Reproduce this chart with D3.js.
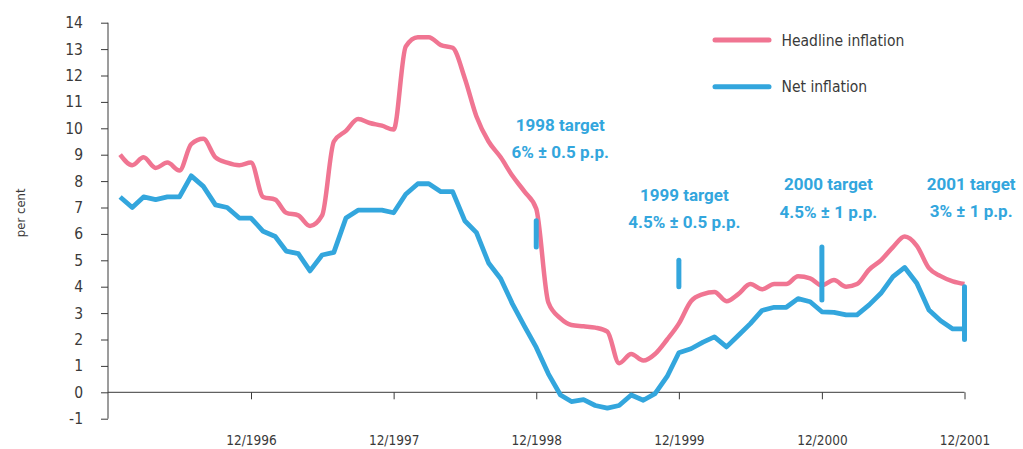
<html>
<head>
    <title>Headline and net inflation</title>
    <script src="https://d3js.org/d3.v7.min.js"></script>
    <style>
        body {
            margin: 0;
            background: #fff;
        }
        svg {
            display: block;
        }
        text {
            font-family: "Liberation Sans Narrow", "DejaVu Sans Condensed", "Roboto", sans-serif;
        }
    </style>
</head>
<body>
    <svg id="chart"></svg>
<script>
    const WIDTH = 1023
    const HEIGHT = 449
    const PINK = "#f07592"
    const BLUE = "#33a6dd"
    const INK = "#3a3a3a"

    // Monthly values, Jan 1996 .. Dec 2001 (per cent)
    const headline = [
        9.0, 8.6, 8.9, 8.5, 8.7, 8.4, 9.4, 9.6, 8.9, 8.7, 8.6, 8.7,
        7.4, 7.3, 6.8, 6.7, 6.3, 6.7, 9.5, 9.9, 10.35, 10.2, 10.1, 9.95,
        13.1, 13.45, 13.45, 13.15, 13.05, 11.9, 10.45, 9.5, 8.9, 8.2, 7.6, 6.95,
        3.4, 2.8, 2.55, 2.5, 2.45, 2.3, 1.1, 1.45, 1.2, 1.45, 2.0, 2.6,
        3.45, 3.72, 3.8, 3.45, 3.72, 4.1, 3.9, 4.1, 4.1, 4.4, 4.32, 4.05,
        4.25, 4.0, 4.1, 4.65, 5.0, 5.5, 5.9, 5.55, 4.7, 4.4, 4.2, 4.1
    ]
    const net = [
        7.4, 7.0, 7.4, 7.3, 7.4, 7.4, 8.2, 7.8, 7.1, 7.0, 6.6, 6.6,
        6.1, 5.9, 5.35, 5.25, 4.6, 5.2, 5.3, 6.6, 6.9, 6.9, 6.9, 6.8,
        7.5, 7.9, 7.9, 7.6, 7.6, 6.5, 6.05, 4.9, 4.3, 3.35, 2.5, 1.7,
        0.7, -0.1, -0.35, -0.28, -0.5, -0.6, -0.5, -0.1, -0.3, -0.05, 0.6, 1.5,
        1.65, 1.9, 2.1, 1.72, 2.15, 2.6, 3.1, 3.22, 3.22, 3.55, 3.43, 3.05,
        3.03, 2.93, 2.93, 3.31, 3.75, 4.38, 4.73, 4.13, 3.12, 2.71, 2.4, 2.4
    ]
    const seriesNames = ["Headline inflation", "Net inflation"]
    const xTickLabels = ["12/1996", "12/1997", "12/1998", "12/1999", "12/2000", "12/2001"]
    const yTickValues = [-1, 0, 1, 2, 3, 4, 5, 6, 7, 8, 9, 10, 11, 12, 13, 14]
    const yLabel = "per cent"

    // Inflation targets (band shown at December of each year)
    const targetMonths = ["12/1998", "12/1999", "12/2000", "12/2001"]
    const targetLow = [5.5, 4.0, 3.5, 2.0]
    const targetHigh = [6.5, 5.0, 5.5, 4.0]
    const targetTitles = ["1998 target", "1999 target", "2000 target", "2001 target"]
    const targetTexts = ["6% \u00b1 0.5 p.p.", "4.5% \u00b1 0.5 p.p.", "4.5% \u00b1 1 p.p.", "3% \u00b1 1 p.p."]

    // where the target captions sit: pixel shift from the bar, level in per cent
    const CAPTION_DX = [24, 5.5, 6.5, 6.7]
    const CAPTION_LEVEL = [9.9, 7.25, 7.66, 7.68]

    const parseMonth = d3.timeParse("%m/%Y")
    const months = d3.timeMonth.range(new Date(1996, 0, 1), new Date(2002, 0, 1))

    const svg = d3.select("#chart")
        .attr("width", WIDTH)
        .attr("height", HEIGHT)

    const x = d3.scaleTime()
        .domain([new Date(1995, 11, 1), new Date(2001, 11, 1)])
        .range([108, 964.5])

    const y = d3.scaleLinear()
        .domain([-1, 14])
        .range([418.7, 22.7])

    // y axis
    const yAxis = d3.axisLeft(y)
        .tickValues(yTickValues)
        .tickFormat(d3.format("d"))
        .tickSize(7)
        .tickPadding(18)

    const gy = svg.append("g")
        .attr("transform", `translate(${x.range()[0]},0)`)
        .call(yAxis)
    gy.select(".domain").attr("d", `M0,${y(-1)}V${y(14)}`)
    gy.selectAll("line, path").attr("stroke", INK)
    gy.selectAll("text")
        .attr("fill", INK)
        .style("font-size", "15.5px")
        .text(d => d < 0 ? "-" + Math.abs(d) : d)

    // x axis sits on the zero line
    const xAxis = d3.axisBottom(x)
        .tickValues(xTickLabels.map(parseMonth))
        .tickFormat(d3.timeFormat("%m/%Y"))
        .tickSize(7)
        .tickPadding(36)

    const gx = svg.append("g")
        .attr("transform", `translate(0,${y(0)})`)
        .call(xAxis)
    gx.select(".domain").attr("d", `M${x.range()[0]},0H${x.range()[1]}`)
    gx.selectAll("line, path").attr("stroke", INK)
    gx.selectAll("text")
        .attr("fill", INK)
        .style("font-size", "13.5px")

    svg.append("text")
        .attr("transform", `translate(25,${y(6.8)}) rotate(-90)`)
        .attr("text-anchor", "middle")
        .attr("fill", INK)
        .style("font-size", "13px")
        .text(yLabel)

    // series lines
    const headLine = d3.line()
        .x((d, i) => x(months[i]))
        .y(d => y(d))
        .curve(d3.curveMonotoneX)

    const netLine = d3.line()
        .x((d, i) => x(months[i]))
        .y(d => y(d))

    svg.append("path")
        .datum(net)
        .attr("fill", "none")
        .attr("stroke", BLUE)
        .attr("stroke-width", 4.8)
        .attr("stroke-linejoin", "round")
        .attr("d", netLine)

    svg.append("path")
        .datum(headline)
        .attr("fill", "none")
        .attr("stroke", PINK)
        .attr("stroke-width", 4.5)
        .attr("stroke-linejoin", "round")
        .attr("d", headLine)

    // target bands
    targetMonths.forEach((m, i) => {
        const bx = x(parseMonth(m))
        svg.append("line")
            .attr("x1", bx).attr("x2", bx)
            .attr("y1", y(targetLow[i])).attr("y2", y(targetHigh[i]))
            .attr("stroke", BLUE)
            .attr("stroke-width", 5)
            .attr("stroke-linecap", "round")

        const cap = svg.append("text")
            .attr("text-anchor", "middle")
            .attr("fill", BLUE)
            .style("font-family", "Roboto, sans-serif")
            .style("font-weight", "bold")
            .style("font-size", "17px")
        cap.append("tspan")
            .attr("x", bx + CAPTION_DX[i])
            .attr("y", y(CAPTION_LEVEL[i]))
            .text(targetTitles[i])
        cap.append("tspan")
            .attr("x", bx + CAPTION_DX[i])
            .attr("dy", 27.5)
            .text(targetTexts[i])
    })

    // legend
    const legend = svg.append("g")
        .attr("transform", "translate(715,40)")
    const legendColors = [PINK, BLUE]
    seriesNames.forEach((name, i) => {
        legend.append("line")
            .attr("x1", 0).attr("x2", 54)
            .attr("y1", i * 46.7).attr("y2", i * 46.7)
            .attr("stroke", legendColors[i])
            .attr("stroke-width", 5)
            .attr("stroke-linecap", "round")
        legend.append("text")
            .attr("x", 66.5)
            .attr("y", i * 46.7 + 5.5)
            .attr("fill", INK)
            .style("font-size", "15.5px")
            .text(name)
    })
</script>
</body>
</html>
